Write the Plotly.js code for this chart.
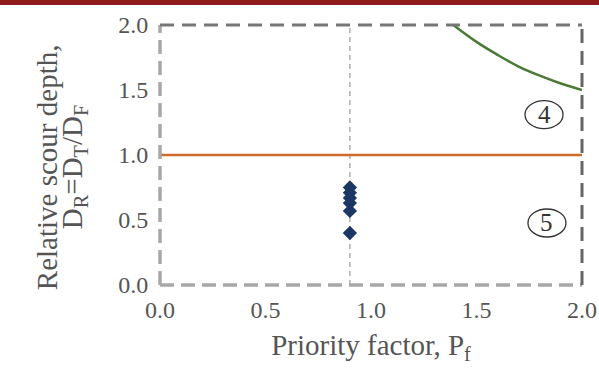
<!DOCTYPE html>
<html><head><meta charset="utf-8">
<script src="https://cdn.plot.ly/plotly-3.0.1.min.js"></script>
<style>html,body{margin:0;padding:0;background:#fff;}#band{position:absolute;left:0;top:0;width:599px;height:5px;background:#8e1a1d;z-index:10;}</style>
</head><body>
<div id="band"></div>
<div id="chart" style="width:599px;height:371px;"></div>
<script>
// Data
const curveX = [1.39, 1.5, 1.6, 1.7, 1.8, 1.9, 2.0];
const curveY = [2.0, 1.87, 1.77, 1.68, 1.61, 1.55, 1.5];
const refLineX = [0, 2];
const refLineY = [1.0, 1.0];
const pointsX = [0.9, 0.9, 0.9, 0.9, 0.9, 0.9];
const pointsY = [0.75, 0.71, 0.67, 0.63, 0.57, 0.40];
const dividerX = 0.9;
const zoneLabels = ['4', '5'];
const zoneX = [1.82, 1.834];
const zoneY = [1.31, 0.477];
const tickVals = [0, 0.5, 1.0, 1.5, 2.0];
const tickText = ['0.0', '0.5', '1.0', '1.5', '2.0'];
const yTitleLines = ['Relative scour depth,', 'D<sub>R</sub>=D<sub>T</sub>/D<sub>F</sub>'];

const serif = 'Liberation Serif';
const traces = [
  {x: refLineX, y: refLineY, mode: 'lines', line: {color: '#cf6a2a', width: 2.5}, hoverinfo: 'skip'},
  {x: curveX, y: curveY, mode: 'lines', line: {color: '#4a7a36', width: 2.5, shape: 'spline'}, hoverinfo: 'skip'},
  {x: pointsX, y: pointsY, mode: 'markers', marker: {symbol: 'diamond', size: 11, color: '#1d3764'}, hoverinfo: 'skip'}
];
const shapes = [
  {type: 'line', xref: 'x', yref: 'paper', x0: dividerX, x1: dividerX, y0: 0, y1: 1, line: {color: '#b0b0b0', width: 1.5, dash: '5px,4px'}, layer: 'below'},
  {type: 'line', xref: 'paper', yref: 'paper', x0: 0, x1: 0, y0: 0, y1: 1, line: {color: '#a8a8a8', width: 3.5, dash: '14px,7px'}},
  {type: 'line', xref: 'paper', yref: 'paper', x0: 0, x1: 1, y0: 0, y1: 0, line: {color: '#a8a8a8', width: 3.5, dash: '14px,7px'}},
  {type: 'line', xref: 'paper', yref: 'paper', x0: 0, x1: 1, y0: 1, y1: 1, line: {color: '#777', width: 3, dash: '14px,8px'}},
  {type: 'line', xref: 'paper', yref: 'paper', x0: 1, x1: 1, y0: 0, y1: 1, line: {color: '#666', width: 3, dash: '14px,8px'}}
];
const annotations = [];
zoneLabels.forEach((t, i) => {
  shapes.push({type: 'circle', xref: 'x', yref: 'y', xsizemode: 'pixel', ysizemode: 'pixel',
    xanchor: zoneX[i], yanchor: zoneY[i], x0: -19, x1: 19, y0: -14, y1: 14,
    line: {color: '#333', width: 1.3}});
  annotations.push({x: zoneX[i], y: zoneY[i], text: t, showarrow: false,
    font: {family: serif, size: 25, color: '#333'}});
});
const yTitleX = [-0.269, -0.205];
yTitleLines.forEach((t, i) => {
  annotations.push({xref: 'paper', yref: 'paper', x: yTitleX[i], y: 0.455, xanchor: 'center', yanchor: 'middle',
    text: t, textangle: -90, showarrow: false,
    font: {family: serif, size: 29, color: '#555'}});
});

const layout = {
  width: 599, height: 371,
  margin: {l: 160, r: 17, t: 25, b: 86},
  paper_bgcolor: '#fff', plot_bgcolor: '#fff',
  showlegend: false,
  font: {family: serif, color: '#555'},
  xaxis: {range: [0, 2], tickvals: tickVals, ticktext: tickText, showgrid: false, zeroline: false, showline: false,
    ticks: 'outside', ticklen: 3, tickcolor: 'rgba(0,0,0,0)', tickfont: {family: serif, size: 24, color: '#555'},
    title: {text: 'Priority factor, P<sub>f</sub>', font: {family: serif, size: 29, color: '#555'}, standoff: 12}},
  yaxis: {range: [0, 2], tickvals: tickVals, ticktext: tickText, showgrid: false, zeroline: false, showline: false,
    ticks: 'outside', ticklen: 6, tickcolor: 'rgba(0,0,0,0)', tickfont: {family: serif, size: 24, color: '#555'}},
  shapes: shapes,
  annotations: annotations
};
Plotly.newPlot('chart', traces, layout, {displayModeBar: false, staticPlot: true});
</script>
</body></html>
